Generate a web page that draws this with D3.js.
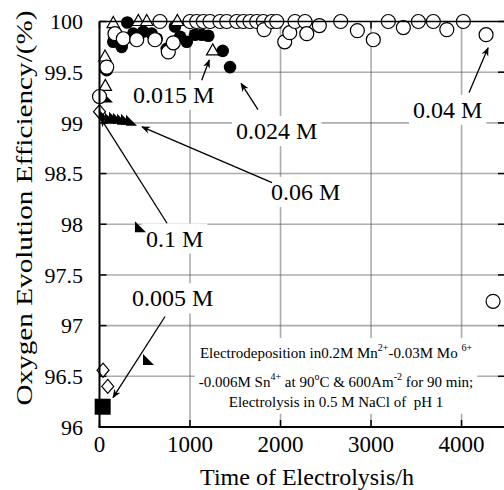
<!DOCTYPE html>
<html lang="en">
<head>
<meta charset="UTF-8">
<script src="https://d3js.org/d3.v7.min.js"></script>
<title>Oxygen evolution efficiency</title>
<style>
  body { margin: 0; background: #fff; }
  svg text { font-family: "Liberation Serif", "Times New Roman", serif; fill: #000; }
</style>
</head>
<body>
<script>
// ---- data (time in h, efficiency in %) ----
const xTicks = [0, 1000, 2000, 3000, 4000];
const yTicks = [96, 96.5, 97, 97.5, 98, 98.5, 99, 99.5, 100];

// 0.04 M - open circles
const c040 = [
  [0, 99.26], [80, 99.55], [171, 99.88], [263, 99.83], [411, 99.82], [613, 99.82],
  [668, 100], [760, 99.70], [815, 99.79], [1000, 100], [1074, 100], [1147, 100],
  [1221, 100], [1331, 100], [1406, 100], [1516, 100], [1589, 100], [1663, 100],
  [1737, 100], [1810, 100], [1818, 99.92], [1903, 100], [1958, 100], [2046, 99.80],
  [2102, 99.89], [2160, 100], [2271, 100], [2290, 99.88], [2429, 99.96], [2665, 100],
  [2849, 99.91], [3025, 99.82], [3191, 100], [3357, 99.94], [3523, 100], [3688, 100],
  [3837, 99.92], [4020, 100], [4271, 99.87], [4348, 97.24]
];
// 0.024 M - filled circles
const c024 = [
  [0, 99.26], [80, 99.52], [152, 99.80], [245, 99.75], [307, 99.99], [373, 99.88],
  [484, 99.90], [577, 99.88], [632, 99.83], [668, 100], [743, 99.73], [834, 99.95],
  [890, 99.85], [964, 99.80], [1055, 99.87], [1129, 99.87], [1202, 99.86],
  [1361, 99.71], [1442, 99.55]
];
// 0.015 M - open triangles
const c015 = [
  [61, 99.65], [64, 99.36], [152, 99.98], [429, 100], [522, 100], [860, 100], [1251, 99.71]
];
// 0.06 M - filled triangles
const c060 = [
  [50, 99.07], [83, 99.25], [116, 99.04], [160, 99.05], [204, 99.04], [249, 99.03],
  [293, 99.03], [348, 99.02], [447, 97.97], [536, 96.66]
];
// 0.1 M - open diamonds
const c100 = [[0, 99.11], [39, 96.56], [91, 96.40]];
// 0.005 M - filled square
const c005 = [[35, 96.2]];

// labels and arrows, in data units
const labelText = ["0.015 M", "0.024 M", "0.04 M", "0.06 M", "0.1 M", "0.005 M"];
const labelAt = [[370, 99.197], [1508, 98.84], [3464, 99.05], [1895, 98.24], [514, 97.78], [359, 97.19]];
const arrowFrom = [[1129, 99.42], [1751, 99.13], [4083, 99.30], [1906, 98.41], [746, 98.01], [724, 97.09]];
const arrowTo = [[1213, 99.62], [1564, 99.39], [4293, 99.74], [470, 98.96], [17, 99.04], [149, 96.29]];

const W = 504, H = 490;
const x = d3.scaleLinear().domain([0, 4480]).range([99.5, 505]);
const y = d3.scaleLinear().domain([96, 100]).range([427, 21.5]);

const svg = d3.select("body").append("svg")
  .attr("width", W).attr("height", H)
  .style("display", "block");

// grid
const grid = svg.append("g")
  .attr("stroke", "#5a5a5a").attr("stroke-width", 1.6).attr("stroke-dasharray", "1,1");
grid.selectAll(".gx").data(xTicks.slice(1)).enter().append("line")
  .attr("x1", d => x(d)).attr("x2", d => x(d))
  .attr("y1", y(100)).attr("y2", y(96));
grid.selectAll(".gy").data(yTicks.slice(1, -1)).enter().append("line")
  .attr("x1", x(0)).attr("x2", x(4480))
  .attr("y1", d => y(d)).attr("y2", d => y(d));

// inward ticks on all four sides
const tk = svg.append("g").attr("stroke", "#000").attr("stroke-width", 1.5);
xTicks.forEach(d => {
  tk.append("line").attr("x1", x(d)).attr("x2", x(d)).attr("y1", y(96)).attr("y2", y(96) - 7);
  tk.append("line").attr("x1", x(d)).attr("x2", x(d)).attr("y1", y(100)).attr("y2", y(100) + 7);
});
yTicks.forEach(d => {
  tk.append("line").attr("x1", x(0)).attr("x2", x(0) + 7).attr("y1", y(d)).attr("y2", y(d));
  tk.append("line").attr("x1", x(4480)).attr("x2", x(4480) - 7).attr("y1", y(d)).attr("y2", y(d));
});

// text block with white background
const note = svg.append("g").attr("font-size", 15).attr("text-anchor", "middle");
const nx = x(2613);
const l1 = note.append("text").attr("x", nx).attr("y", y(96.68));
l1.append("tspan").text("Electrodeposition in0.2M Mn");
l1.append("tspan").attr("font-size", 10).attr("dy", -7).text("2+");
l1.append("tspan").attr("dy", 7).text("-0.03M Mo ");
l1.append("tspan").attr("font-size", 10).attr("dy", -7).text("6+");
const l2 = note.append("text").attr("x", nx).attr("y", y(96.39));
l2.append("tspan").text("-0.006M Sn");
l2.append("tspan").attr("font-size", 10).attr("dy", -7).text("4+");
l2.append("tspan").attr("dy", 7).text(" at 90");
l2.append("tspan").attr("font-size", 10).attr("dy", -7).text("o");
l2.append("tspan").attr("dy", 7).text("C & 600Am");
l2.append("tspan").attr("font-size", 10).attr("dy", -7).text("-2");
l2.append("tspan").attr("dy", 7).text(" for 90 min;");
note.append("text").attr("x", nx).attr("y", y(96.20))
  .style("white-space", "pre").text("Electrolysis in 0.5 M NaCl of  pH 1");
const nb = note.node().getBBox();
note.insert("rect", ":first-child")
  .attr("x", nb.x - 4).attr("y", nb.y - 4)
  .attr("width", nb.width + 8).attr("height", nb.height + 8)
  .attr("fill", "#fff");

// concentration labels with white background
const lab = svg.append("g").attr("font-size", 24);
labelText.forEach((s, i) => {
  const g = lab.append("g");
  const t = g.append("text").attr("x", x(labelAt[i][0])).attr("y", y(labelAt[i][1])).text(s);
  const b = t.node().getBBox();
  g.insert("rect", "text").attr("x", b.x - 4).attr("y", b.y - 2)
    .attr("width", b.width + 8).attr("height", b.height + 4).attr("fill", "#fff");
});

// arrows
const defs = svg.append("defs");
defs.append("marker").attr("id", "ah")
  .attr("viewBox", "0 0 10 10").attr("refX", 9).attr("refY", 5)
  .attr("markerWidth", 9).attr("markerHeight", 9).attr("markerUnits", "userSpaceOnUse")
  .attr("orient", "auto")
  .append("path").attr("d", "M0,1 L10,5 L0,9 L3,5 Z").attr("fill", "#000");
svg.append("g").selectAll("line").data(arrowFrom).enter().append("line")
  .attr("x1", d => x(d[0])).attr("y1", d => y(d[1]))
  .attr("x2", (d, i) => x(arrowTo[i][0])).attr("y2", (d, i) => y(arrowTo[i][1]))
  .attr("stroke", "#000").attr("stroke-width", 1.3)
  .attr("marker-end", "url(#ah)");

// points
const pts = svg.append("g");
pts.selectAll(".dia").data(c100).enter().append("path")
  .attr("d", "M0,-7 L6,0 L0,7 L-6,0 Z")
  .attr("transform", d => `translate(${x(d[0])},${y(d[1])})`)
  .attr("fill", "#fff").attr("stroke", "#000").attr("stroke-width", 1.2);
pts.selectAll(".sq").data(c005).enter().append("rect")
  .attr("x", d => x(d[0]) - 8).attr("y", d => y(d[1]) - 8)
  .attr("width", 16).attr("height", 16).attr("fill", "#000");
pts.selectAll(".ftri").data(c060).enter().append("path")
  .attr("d", "M-5,-6 L-5,5 L6,5 Z")
  .attr("transform", d => `translate(${x(d[0])},${y(d[1])})`)
  .attr("fill", "#000");
pts.selectAll(".fc").data(c024).enter().append("circle")
  .attr("cx", d => x(d[0])).attr("cy", d => y(d[1])).attr("r", 6.3)
  .attr("fill", "#000");
pts.selectAll(".otri").data(c015).enter().append("path")
  .attr("d", "M0,-7 L6.2,4 L-6.2,4 Z")
  .attr("transform", d => `translate(${x(d[0])},${y(d[1])})`)
  .attr("fill", "#fff").attr("stroke", "#000").attr("stroke-width", 1.2);
pts.selectAll(".oc").data(c040).enter().append("circle")
  .attr("cx", d => x(d[0])).attr("cy", d => y(d[1])).attr("r", 7)
  .attr("fill", "#fff").attr("stroke", "#000").attr("stroke-width", 1.2);

// frame
const fr = svg.append("g").attr("stroke", "#000").attr("fill", "none");
fr.append("line").attr("x1", x(0)).attr("x2", x(4480)).attr("y1", y(100)).attr("y2", y(100)).attr("stroke-width", 1.5);
fr.append("line").attr("x1", x(0)).attr("x2", x(0)).attr("y1", y(100)).attr("y2", y(96)).attr("stroke-width", 2);
fr.append("line").attr("x1", x(0) - 1).attr("x2", x(4480)).attr("y1", y(96)).attr("y2", y(96)).attr("stroke-width", 2);

// tick labels
svg.append("g").attr("font-size", 23).attr("text-anchor", "middle")
  .selectAll("text").data(xTicks).enter().append("text")
  .attr("x", d => x(d)).attr("y", 452).text(d => d);
svg.append("g").attr("font-size", 22).attr("text-anchor", "end")
  .selectAll("text").data(yTicks).enter().append("text")
  .attr("x", 83).attr("y", d => y(d)).attr("dy", "0.35em").text(d => d);

// axis titles
svg.append("text").attr("x", 307).attr("y", 485).attr("font-size", 24)
  .attr("text-anchor", "middle").text("Time of Electrolysis/h");
svg.append("text").attr("font-size", 24).attr("text-anchor", "middle")
  .attr("transform", "translate(32,208) rotate(-90)")
  .attr("textLength", 395).attr("lengthAdjust", "spacingAndGlyphs")
  .text("Oxygen Evolution Efficiency/(%)");
</script>
</body>
</html>
